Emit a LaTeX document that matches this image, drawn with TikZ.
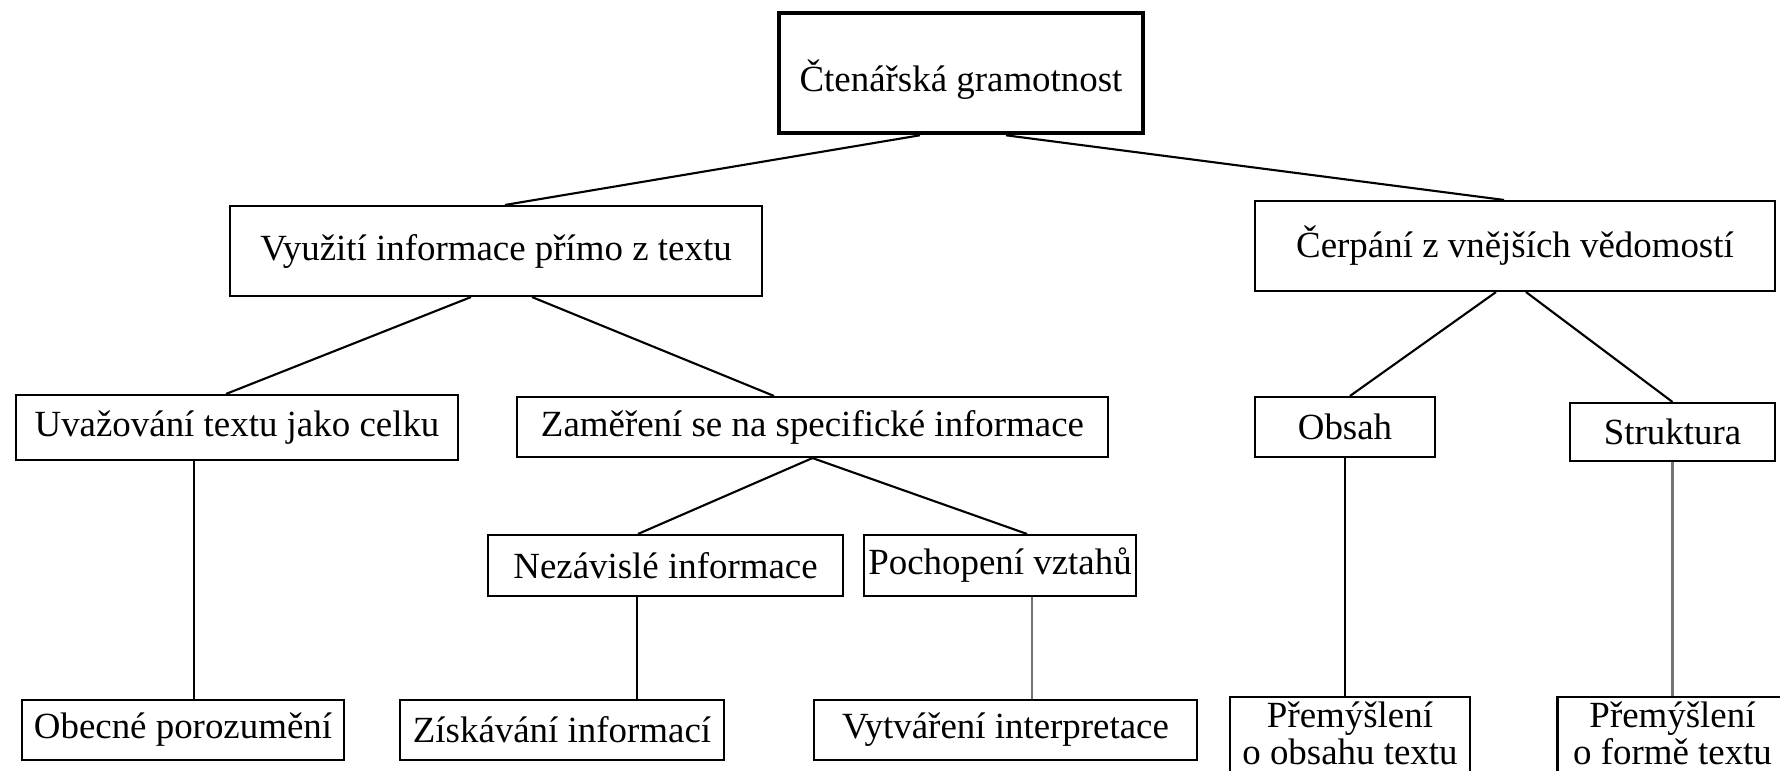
\documentclass[tikz,border=0pt]{standalone}
\usepackage{fontspec}
\setmainfont{Liberation Serif}
\usetikzlibrary{positioning}

\begin{document}
\begin{tikzpicture}%
  [node distance=2cm,
   on grid,
   every node/.style={font=\fontsize{10.5}{12.6}\selectfont},
   box/.style={draw, line width=0.6pt, inner sep=0pt, minimum height=0.6cm},
   topbox/.style={box, line width=1.3pt, minimum height=1.2cm, text height=0.45cm, text depth=0.08cm},
   twoline/.style={box, align=center, font=\fontsize{10.5}{10.6}\selectfont},
   link/.style={line width=0.6pt},
   greylink/.style={link, draw=black!55}
  ]
\useasboundingbox (0,0) rectangle (17.8,-7.7);
\clip (0,0) rectangle (17.8,-7.7);

\node[topbox, minimum width=3.64cm] (gram) at (9.61,-0.73) {Čtenářská gramotnost};

% first level
\node[box, minimum width=5.32cm, minimum height=0.9cm] (vyuz) [below left=1.78cm and 4.65cm of gram]  {Využití informace přímo z textu};
\node[box, minimum width=5.2cm, minimum height=0.9cm]  (cerp) [below right=1.73cm and 5.54cm of gram] {Čerpání z vnějších vědomostí};

% second level
\node[box, minimum width=4.42cm, minimum height=0.65cm] (uvaz)   [below left=1.765cm and 2.59cm of vyuz]   {Uvažování textu jako celku};
\node[box, minimum width=5.91cm]                        (zamer)  [below right=1.76cm and 3.165cm of vyuz]  {Zaměření se na specifické informace};
\node[box, minimum width=1.8cm]                         (obsah)  [below left=1.81cm and 1.7cm of cerp]     {Obsah};
\node[box, minimum width=2.05cm, minimum height=0.58cm] (strukt) [below right=1.86cm and 1.575cm of cerp]  {Struktura};

% third level
\node[box, minimum width=3.55cm, minimum height=0.61cm] (nezav)  [below left=1.385cm and 1.47cm of zamer]  {Nezávislé informace};
\node[box, minimum width=2.72cm, minimum height=0.61cm] (pochop) [below right=1.385cm and 1.875cm of zamer] {Pochopení vztahů};

% bottom row
\node[box, minimum width=3.22cm]     (obec)    [below left=3.025cm and 0.54cm of uvaz]    {Obecné porozumění};
\node[box, minimum width=3.24cm]     (ziskav)  [below left=1.645cm and 1.035cm of nezav]  {Získávání informací};
\node[box, minimum width=3.83cm]     (vytvar)  [below right=1.645cm and 0.055cm of pochop] {Vytváření interpretace};
\node[twoline, minimum width=2.4cm, minimum height=1.2cm] (premobs) [below right=3.3cm and 0.05cm of obsah] {\strut Přemýšlení\\\strut o obsahu textu\\\strut};
\node[twoline, minimum width=2.3cm, minimum height=1.2cm] (premfor) [below=3.25cm of strukt]                {\strut Přemýšlení\\\strut o formě textu\\\strut};

% connectors
\draw[link] ([xshift=-0.41cm]gram.south) -- ([xshift=0.09cm]vyuz.north);
\draw[link] ([xshift=0.45cm]gram.south)  -- ([xshift=-0.11cm]cerp.north);
\draw[link] ([xshift=-0.25cm]vyuz.south) -- ([xshift=-0.11cm]uvaz.north);
\draw[link] ([xshift=0.36cm]vyuz.south)  -- ([xshift=-0.385cm]zamer.north);
\draw[link] ([xshift=-0.19cm]cerp.south) -- ([xshift=0.05cm]obsah.north);
\draw[link] ([xshift=0.11cm]cerp.south)  -- (strukt.north);
\draw[link] (zamer.south) -- ([xshift=-0.275cm]nezav.north);
\draw[link] (zamer.south) -- ([xshift=0.27cm]pochop.north);

\draw[link]     ([xshift=-0.43cm]uvaz.south)   -- ([xshift=-0.43cm]uvaz.south |- obec.north);
\draw[link]     ([xshift=-0.285cm]nezav.south) -- ([xshift=-0.285cm]nezav.south |- ziskav.north);
\draw[greylink] ([xshift=0.32cm]pochop.south)  -- ([xshift=0.32cm]pochop.south |- vytvar.north);
\draw[link]     (obsah.south)  -- (obsah.south |- premobs.north);
\draw[greylink] (strukt.south) -- (strukt.south |- premfor.north);
\end{tikzpicture}
\end{document}
